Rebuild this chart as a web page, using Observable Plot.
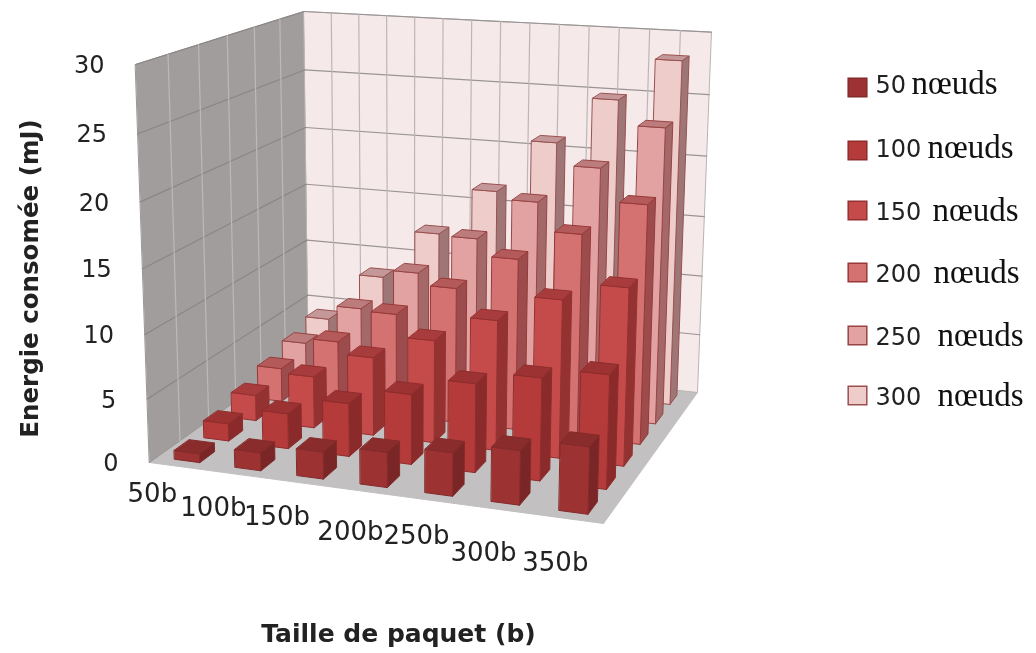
<!DOCTYPE html>
<html><head><meta charset="utf-8">
<script src="https://cdn.jsdelivr.net/npm/d3@7"></script>
<script src="https://cdn.jsdelivr.net/npm/@observablehq/plot@0.6"></script>
<style>html,body{margin:0;padding:0;background:#fff}svg{display:block;filter:blur(.45px)}</style>
</head><body><div id="chart"></div>
<script>
const categories = ["50b","100b","150b","200b","250b","300b","350b"];
const seriesNames = ["50","100","150","200","250","300"];
const n50  = [0.7,1.4,2.1,2.7,3.3,4.1,5.0];
const n100 = [1.4,2.8,4.2,5.5,6.9,7.9,8.7];
const n150 = [2.1,4.2,6.3,8.2,10.3,12.4,13.8];
const n200 = [2.8,5.6,8.4,11.0,13.8,16.2,18.9];
const n250 = [3.5,7.0,10.5,13.8,17.2,20.3,23.8];
const n300 = [4.2,8.4,12.6,16.6,21.0,24.8,28.2];
const seriesValues = [n50,n100,n150,n200,n250,n300];
const zTicks = [0,5,10,15,20,25,30];
const frontColors = ["#9c3232","#b53b3b","#c54a4a","#d47272","#e2a2a2","#eeccca"];
const sideColors  = ["#7a2626","#8a2a2a","#943232","#9c4c4c","#a46868","#9e7676"];
const topColors   = ["#8a2c2c","#9c3232","#a83c3c","#b45a5a","#bc7c7c","#c49898"];
const edgeColors  = ["#832a2a","#8e2c2c","#943030","#983838","#984444","#9a5050"];

// projection calibration of the 3D box
const FL=[149,462],FR=[603,523],BR=[697,392],BL=[308,349],VP=[408,7840],zMax=30,topBL=11;
const dx1=FR[0]-BR[0],dx2=BL[0]-BR[0],sx=FL[0]-FR[0]+BR[0]-BL[0];
const dy1=FR[1]-BR[1],dy2=BL[1]-BR[1],sy=FL[1]-FR[1]+BR[1]-BL[1];
const den=dx1*dy2-dx2*dy1;
const g=(sx*dy2-dx2*sy)/den,h=(dx1*sy-sx*dy1)/den;
const a=FR[0]-FL[0]+g*FR[0],b=BL[0]-FL[0]+h*BL[0],c=FL[0];
const d=FR[1]-FL[1]+g*FR[1],e=BL[1]-FL[1]+h*BL[1],f=FL[1];
const k=(BL[1]-topBL)*(1+h)/(zMax*(topBL-VP[1]));
function proj(u,v,z){
  const W=g*u+h*v+1+z*k;
  return [(a*u+b*v+c+z*k*VP[0])/W,(d*u+e*v+f+z*k*VP[1])/W];
}
const poly=(id,pts,fill,stroke)=>pts.map(p=>{const q=proj(...p);return {id,x:q[0],y:q[1],fill,stroke};});

// walls
const walls=[
 ...poly("floor",[[0,0,0],[1,0,0],[1,1,0],[0,1,0]],"#c2c0c0","#c2c0c0"),
 ...poly("left",[[0,0,0],[0,1,0],[0,1,zMax],[0,0,zMax]],"#a19d9d","#9a9696"),
 ...poly("back",[[0,1,0],[1,1,0],[1,1,zMax],[0,1,zMax]],"#f6e9ea","#b9b4b4")
];
// grid
const grid=[];
zTicks.forEach(z=>{
  if(z===0) return;
  grid.push(...poly("zb"+z,[[0,1,z],[1,1,z]],"none","#9a9494"));
  grid.push(...poly("zl"+z,[[0,0,z],[0,1,z]],"none","#8a8686"));
});
for(let i=1;i<14;i++) grid.push(...poly("ub"+i,[[i/14,1,0],[i/14,1,zMax]],"none","#bdb6b8"));
for(let j=1;j<6;j++) grid.push(...poly("vl"+j,[[0,j/6,0],[0,j/6,zMax]],"none","#bcb9b9"));

// bars
const bw=0.42/7,bd=0.5/6;
const faces=[];
for(let j=5;j>=0;j--) categories.forEach((cat,i)=>{
  const z=seriesValues[j][i];
  const u0=(i+.5)/7-bw/2,u1=u0+bw,v0=(j+.5)/6-bd/2,v1=v0+bd;
  const id=`${j}-${i}-`;
  faces.push(...poly(id+"s",[[u1,v0,0],[u1,v1,0],[u1,v1,z],[u1,v0,z]],sideColors[j],edgeColors[j]));
  faces.push(...poly(id+"f",[[u0,v0,0],[u1,v0,0],[u1,v0,z],[u0,v0,z]],frontColors[j],edgeColors[j]));
  faces.push(...poly(id+"t",[[u0,v0,z],[u1,v0,z],[u1,v1,z],[u0,v1,z]],topColors[j],edgeColors[j]));
});

const catNudgeX=[0,0,1,10,10,9,11];
const catNudgeY=[-3,1,0,4,-2,4,2];
const catLabels=categories.map((t,i)=>{const u=(i+.5)/7;const q=proj(u,-0.14-0.06*u,0);return {t,x:q[0]+catNudgeX[i],y:q[1]+catNudgeY[i]};});
const zLabels=zTicks.map(t=>{const q=proj(0,0,t);return {t:String(t),x:q[0],y:q[1]};});

// legend
const legendY=[87,150,210,272,335,395];
const baselineY=[93,157,220,282,345,405];
const nodeX=[911,927,932,933,937,937];
const legend=seriesNames.map((t,j)=>({t,y:legendY[j],b:baselineY[j],nx:nodeX[j],fill:frontColors[j],stroke:edgeColors[j]}));
const sans="'DejaVu Sans',sans-serif";

const plot=Plot.plot({
  width:1036,height:653,margin:0,
  x:{domain:[0,1036],range:[0,1036],axis:null},
  y:{domain:[0,653],range:[0,653],axis:null},
  color:{type:"identity"},
  style:{background:"#fff"},
  marks:[
    Plot.line(walls,{x:"x",y:"y",z:"id",fill:"fill",stroke:"stroke",curve:"linear-closed",strokeWidth:1}),
    Plot.line(grid,{x:"x",y:"y",z:"id",stroke:"stroke",strokeWidth:1.2}),
    Plot.line(faces,{x:"x",y:"y",z:"id",fill:"fill",stroke:"stroke",curve:"linear-closed",strokeWidth:1}),
    Plot.text(zLabels,{x:"x",y:"y",text:"t",dx:-31,dy:1,textAnchor:"end",fontSize:24,fontFamily:sans,fill:"#222"}),
    Plot.text(catLabels,{x:"x",y:"y",text:"t",dy:10,fontSize:26,fontFamily:sans,fill:"#222"}),
    Plot.text(["Energie consomée (mJ)"],{x:[30],y:[278],text:d=>d,rotate:-90,fontSize:24.5,fontWeight:"bold",fontFamily:sans,fill:"#222"}),
    Plot.text(["Taille de paquet (b)"],{x:[398],y:[633],text:d=>d,fontSize:25,fontWeight:"bold",fontFamily:sans,fill:"#222"}),
    Plot.dot(legend,{x:()=>857,y:"y",r:10.5,symbol:"square",fill:"fill",stroke:"stroke"}),
    Plot.text(legend,{x:()=>875,y:d=>d.b-8,text:"t",textAnchor:"start",fontSize:24,fontFamily:sans,fill:"#222"}),
    Plot.text(legend,{x:"nx",y:d=>d.b-10,text:()=>"nœuds",textAnchor:"start",fontSize:33,fontFamily:"'Liberation Serif',serif",fill:"#111"})
  ]
});
document.getElementById("chart").append(plot);
</script></body></html>
